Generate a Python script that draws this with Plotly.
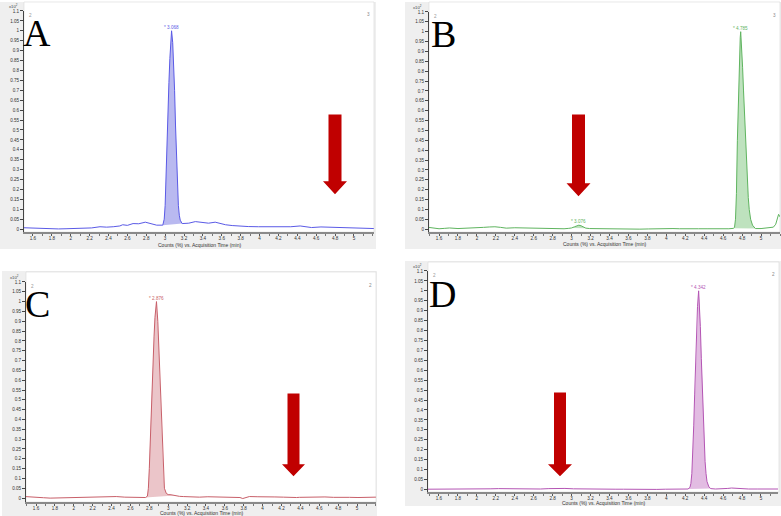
import plotly.graph_objects as go

W, H = 781, 516

# ---------------- data ----------------
x_tick_vals = [1.6, 1.8, 2.0, 2.2, 2.4, 2.6, 2.8, 3.0, 3.2, 3.4, 3.6, 3.8, 4.0, 4.2, 4.4, 4.6, 4.8, 5.0]
x_tick_text = ["1.6", "1.8", "2", "2.2", "2.4", "2.6", "2.8", "3", "3.2", "3.4", "3.6", "3.8",
               "4", "4.2", "4.4", "4.6", "4.8", "5"]
y_tick_vals = [0, 0.05, 0.1, 0.15, 0.2, 0.25, 0.3, 0.35, 0.4, 0.45, 0.5, 0.55, 0.6, 0.65, 0.7,
               0.75, 0.8, 0.85, 0.9, 0.95, 1.0, 1.05, 1.1]
y_tick_text = ["0", "0.05", "0.1", "0.15", "0.2", "0.25", "0.3", "0.35", "0.4", "0.45", "0.5",
               "0.55", "0.6", "0.65", "0.7", "0.75", "0.8", "0.85", "0.9", "0.95", "1", "1.05", "1.1"]

x_title = "Counts (%) vs. Acquisition Time (min)"

A_time = [1.50, 1.60, 1.70, 1.78, 1.87, 1.95, 2.05, 2.13, 2.22, 2.31, 2.38, 2.45, 2.52, 2.55, 2.60,
          2.66, 2.72, 2.79, 2.86, 2.91, 2.975, 2.99, 3.00, 3.01, 3.02, 3.03, 3.04, 3.05, 3.06, 3.068,
          3.08, 3.09, 3.10, 3.11, 3.12, 3.13, 3.14, 3.15, 3.16, 3.18, 3.25, 3.32, 3.39, 3.46, 3.53,
          3.58, 3.64, 3.71, 3.78, 3.88, 3.99, 4.10, 4.24, 4.33, 4.43, 4.50, 4.55, 4.65, 4.76, 4.86,
          4.97, 5.08, 5.21]
A_counts = [0.007, 0.005, 0.004, 0.0, 0.001, 0.002, 0.004, 0.005, 0.006, 0.012, 0.010, 0.012, 0.016,
            0.022, 0.019, 0.028, 0.027, 0.035, 0.025, 0.020, 0.020, 0.05, 0.12, 0.30, 0.45, 0.60,
            0.74, 0.86, 0.96, 1.0, 0.94, 0.84, 0.70, 0.52, 0.36, 0.22, 0.12, 0.07, 0.045, 0.028,
            0.030, 0.038, 0.035, 0.030, 0.035, 0.028, 0.022, 0.018, 0.015, 0.013, 0.012, 0.011,
            0.010, 0.012, 0.016, 0.010, 0.008, 0.011, 0.010, 0.008, 0.006, 0.006, 0.003]
A_windows = [(2.975, 3.18)]
A_labels = ["3.068"]

B_time = [1.49, 1.55, 1.60, 1.66, 1.71, 1.80, 1.89, 1.98, 2.07, 2.13, 2.19, 2.25, 2.31, 2.40, 2.49,
          2.58, 2.66, 2.75, 2.84, 2.92, 2.97, 3.00, 3.03, 3.05, 3.076, 3.10, 3.12, 3.15, 3.19, 3.28,
          3.37, 3.45, 3.54, 3.63, 3.72, 3.81, 3.90, 3.96, 4.00, 4.07, 4.14, 4.20, 4.25, 4.34, 4.43,
          4.52, 4.60, 4.66, 4.71, 4.72, 4.73, 4.74, 4.75, 4.76, 4.77, 4.78, 4.785, 4.795, 4.805,
          4.815, 4.825, 4.835, 4.845, 4.855, 4.865, 4.875, 4.89, 4.91, 4.94, 5.00, 5.06, 5.10,
          5.13, 5.155, 5.17, 5.185, 5.20]
B_counts = [0.009, 0.006, 0.002, 0.004, 0.006, 0.003, 0.004, 0.006, 0.009, 0.011, 0.012, 0.009,
            0.005, 0.007, 0.006, 0.005, 0.004, 0.003, 0.0, 0.002, 0.004, 0.006, 0.012, 0.017, 0.020,
            0.017, 0.011, 0.005, 0.003, 0.002, 0.002, 0.003, 0.002, 0.001, 0.0, 0.001, 0.002, 0.004,
            0.005, 0.003, 0.002, 0.003, 0.003, 0.002, 0.002, 0.001, 0.0, 0.002, 0.004, 0.01, 0.05,
            0.18, 0.45, 0.68, 0.86, 0.97, 1.0, 0.93, 0.82, 0.70, 0.58, 0.46, 0.35, 0.25, 0.16, 0.10,
            0.05, 0.02, 0.003, 0.003, 0.006, 0.008, 0.010, 0.025, 0.05, 0.075, 0.062]
B_windows = [(2.99, 3.15), (4.71, 4.94)]
B_labels = ["3.076", "4.785"]

C_time = [1.48, 1.55, 1.60, 1.68, 1.75, 1.84, 1.92, 2.00, 2.10, 2.19, 2.28, 2.36, 2.45, 2.54, 2.63,
          2.70, 2.76, 2.78, 2.79, 2.80, 2.81, 2.82, 2.83, 2.84, 2.85, 2.86, 2.876, 2.89, 2.90, 2.91,
          2.92, 2.93, 2.94, 2.95, 2.96, 2.98, 3.00, 3.03, 3.07, 3.12, 3.16, 3.24, 3.33, 3.42, 3.51,
          3.60, 3.69, 3.76, 3.79, 3.83, 3.86, 3.95, 4.04, 4.13, 4.22, 4.28, 4.32, 4.36, 4.39, 4.48,
          4.57, 4.66, 4.75, 4.84, 4.92, 5.01, 5.10, 5.20]
C_counts = [0.008, 0.007, 0.005, 0.002, 0.0, 0.001, 0.002, 0.002, 0.003, 0.003, 0.005, 0.004, 0.008,
            0.005, 0.005, 0.004, 0.003, 0.01, 0.05, 0.15, 0.30, 0.45, 0.58, 0.70, 0.82, 0.92, 1.0,
            0.90, 0.78, 0.62, 0.47, 0.36, 0.25, 0.13, 0.05, 0.024, 0.018, 0.017, 0.013, 0.009, 0.008,
            0.006, 0.005, 0.007, 0.006, 0.005, 0.005, 0.003, -0.002, 0.004, 0.008, 0.007, 0.005,
            0.006, 0.005, 0.004, 0.0, 0.003, 0.004, 0.005, 0.008, 0.006, 0.004, 0.005, 0.004, 0.003,
            0.005, 0.005]
C_windows = [(2.76, 3.07)]
C_labels = ["2.876"]

D_time = [1.48, 1.55, 1.62, 1.70, 1.78, 1.87, 1.96, 2.05, 2.14, 2.23, 2.31, 2.40, 2.49, 2.58, 2.67,
          2.76, 2.84, 2.88, 2.93, 3.02, 3.10, 3.19, 3.28, 3.37, 3.46, 3.55, 3.63, 3.72, 3.81, 3.90,
          3.99, 4.08, 4.16, 4.23, 4.25, 4.26, 4.27, 4.28, 4.29, 4.30, 4.31, 4.32, 4.33, 4.342, 4.352,
          4.36, 4.37, 4.38, 4.39, 4.40, 4.41, 4.42, 4.43, 4.45, 4.47, 4.52, 4.60, 4.65, 4.69, 4.74,
          4.78, 4.87, 4.96, 5.05, 5.18]
D_counts = [0.001, 0.001, 0.0, 0.001, 0.0, 0.001, 0.002, 0.003, 0.003, 0.004, 0.003, 0.003, 0.003,
            0.002, 0.002, 0.004, 0.005, 0.007, 0.005, 0.003, 0.002, 0.002, 0.002, 0.002, 0.001, 0.001,
            0.0, 0.001, 0.0, 0.0, 0.001, 0.0, 0.001, 0.002, 0.01, 0.03, 0.08, 0.18, 0.32, 0.48, 0.64,
            0.80, 0.92, 1.0, 0.93, 0.82, 0.66, 0.50, 0.34, 0.23, 0.14, 0.08, 0.04, 0.013, 0.004, 0.002,
            0.002, 0.005, 0.007, 0.005, 0.003, 0.002, 0.002, 0.001, 0.002]
D_windows = [(4.23, 4.47)]
D_labels = ["4.342"]

panel_letters = ["A", "B", "C", "D"]
corner_numbers = ["3", "3", "2", "2"]

line_colors = ["rgb(90,90,230)", "rgb(95,180,95)", "rgb(200,95,105)", "rgb(180,85,180)"]
fill_colors = ["rgba(115,115,225,0.5)", "rgba(110,190,110,0.45)", "rgba(205,110,120,0.4)",
               "rgba(185,95,185,0.42)"]

# ---------------- layout geometry (pixels) ----------------
panels = [
    dict(time=A_time, counts=A_counts, windows=A_windows, labels=A_labels,
         panel=(0, 0, 376, 248), white=(24, 0, 374, 231), xdom=(24, 374), ydom=(9, 231),
         xr=(1.505, 5.212), yr=(-0.015, 1.1), letter=(37, 31), title_y=243.5,
         arrow=(335, 113, 13, 24, 180, 193)),
    dict(time=B_time, counts=B_counts, windows=B_windows, labels=B_labels,
         panel=(405, 0, 781, 248), white=(429, 0, 780, 231), xdom=(429, 780), ydom=(10, 231),
         xr=(1.494, 5.2), yr=(-0.015, 1.1), letter=(443, 32), title_y=243,
         arrow=(578.5, 113, 13, 24, 182, 195)),
    dict(time=C_time, counts=C_counts, windows=C_windows, labels=C_labels,
         panel=(2, 270, 377, 516), white=(26, 271, 376, 502), xdom=(26, 376), ydom=(281, 502),
         xr=(1.494, 5.201), yr=(-0.02, 1.1), letter=(37, 303), title_y=513,
         arrow=(293.5, 393, 12, 23, 464, 476)),
    dict(time=D_time, counts=D_counts, windows=D_windows, labels=D_labels,
         panel=(405, 260, 781, 506), white=(428, 261, 779, 492), xdom=(428, 778), ydom=(270, 492),
         xr=(1.484, 5.18), yr=(-0.0135, 1.1), letter=(442, 293), title_y=503,
         arrow=(560, 392, 12, 24, 464, 476)),
]


def px(xp):
    return xp / W


def py(yp):
    return 1 - yp / H


fig = go.Figure()
shapes = []
annotations = []
layout = {}

for i, p in enumerate(panels):
    n = "" if i == 0 else str(i + 1)
    xa, ya = "x" + n, "y" + n
    x0, y0, x1, y1 = p["panel"]
    shapes.append(dict(type="rect", xref="paper", yref="paper", x0=px(x0), x1=px(x1),
                       y0=py(y1), y1=py(y0), fillcolor="#efefef", line=dict(width=0), layer="below"))
    wx0, wy0, wx1, wy1 = p["white"]
    shapes.append(dict(type="rect", xref="paper", yref="paper", x0=px(wx0), x1=px(wx1),
                       y0=py(wy1), y1=py(wy0), fillcolor="white",
                       line=dict(width=0.6, color="#d8d8d8"), layer="below"))

    t, c = p["time"], p["counts"]
    for (ws, we), lab in zip(p["windows"], p["labels"]):
        idx = [k for k in range(len(t)) if ws <= t[k] <= we]
        fx = [t[k] for k in idx]
        fy = [c[k] for k in idx]
        fig.add_trace(go.Scatter(x=fx, y=fy, fill="toself", fillcolor=fill_colors[i],
                                 mode="lines", line=dict(width=0), hoverinfo="skip",
                                 showlegend=False, xaxis=xa, yaxis=ya))
        kmax = max(idx, key=lambda k: c[k])
        annotations.append(dict(xref=xa, yref=ya, x=t[kmax], y=c[kmax], text="* " + lab,
                                showarrow=False, yanchor="bottom", xanchor="center", yshift=-1,
                                font=dict(size=4.6, color=line_colors[i],
                                          family="Liberation Sans")))
    fig.add_trace(go.Scatter(x=t, y=c, mode="lines", line=dict(color=line_colors[i], width=1),
                             showlegend=False, xaxis=xa, yaxis=ya))

    xd0, xd1 = p["xdom"]
    yd0, yd1 = p["ydom"]
    layout["xaxis" + n] = dict(domain=[px(xd0), px(xd1)], range=list(p["xr"]), anchor=ya,
                               tickvals=x_tick_vals, ticktext=x_tick_text, ticks="outside",
                               ticklen=2, tickwidth=0.8, tickcolor="#555", showgrid=False,
                               zeroline=False, showline=True, linecolor="#8a8a8a", linewidth=2,
                               ticklabelstandoff=-2,
                               tickfont=dict(size=4.6, color="#333", family="Liberation Sans"),
                               minor=dict(dtick=0.1, ticks="outside", ticklen=1.5, tickcolor="#777"))
    layout["yaxis" + n] = dict(domain=[py(yd1), py(yd0)], range=list(p["yr"]), anchor=xa,
                               tickvals=y_tick_vals, ticktext=y_tick_text, ticks="outside",
                               ticklen=3, tickwidth=0.8, tickcolor="#444", showgrid=False,
                               zeroline=False, showline=True, linecolor="#444", linewidth=1,
                               tickfont=dict(size=4.6, color="#333", family="Liberation Sans"))

    # axis title
    annotations.append(dict(xref="paper", yref="paper", x=px((xd0 + xd1) / 2), y=py(p["title_y"]),
                            text=x_title, showarrow=False, xanchor="center", yanchor="middle",
                            font=dict(size=5, color="#333", family="Liberation Sans")))
    # scale label x10^2
    annotations.append(dict(xref="paper", yref="paper", x=px(xd0 - 11), y=py(yd0 - 5),
                            text="x10<sup>2</sup>", showarrow=False, xanchor="center",
                            yanchor="middle", font=dict(size=4.2, color="#444",
                                                        family="Liberation Sans")))
    # small marks
    annotations.append(dict(xref="paper", yref="paper", x=px(xd0 + 3), y=py(yd0 + 5),
                            text="2", showarrow=False, xanchor="left", yanchor="middle",
                            font=dict(size=4.6, color="#999", family="Liberation Sans")))
    annotations.append(dict(xref="paper", yref="paper", x=px(wx1 - 2), y=py(yd0 + 4),
                            text=corner_numbers[i], showarrow=False, xanchor="right",
                            yanchor="middle", font=dict(size=4.6, color="#888",
                                                        family="Liberation Sans")))
    # panel letter
    lx, ly = p["letter"]
    annotations.append(dict(xref="paper", yref="paper", x=px(lx), y=py(ly), text=panel_letters[i],
                            showarrow=False, xanchor="center", yanchor="middle",
                            font=dict(size=38, color="black", family="Liberation Serif")))
    # red arrow
    ax, atop, sw, hw, htop, tip = p["arrow"]
    pts = [(ax - sw / 2, atop), (ax + sw / 2, atop), (ax + sw / 2, htop), (ax + hw / 2, htop),
           (ax, tip), (ax - hw / 2, htop), (ax - sw / 2, htop)]
    path = "M " + " L ".join(f"{px(a):.5f},{py(b):.5f}" for a, b in pts) + " Z"
    shapes.append(dict(type="path", xref="paper", yref="paper", path=path,
                       fillcolor="#c00000", line=dict(width=0), layer="above"))

fig.update_layout(width=W, height=H, margin=dict(l=0, r=0, t=0, b=0),
                  paper_bgcolor="white", plot_bgcolor="rgba(0,0,0,0)",
                  shapes=shapes, annotations=annotations, showlegend=False, **layout)

fig.write_html("out.html")
